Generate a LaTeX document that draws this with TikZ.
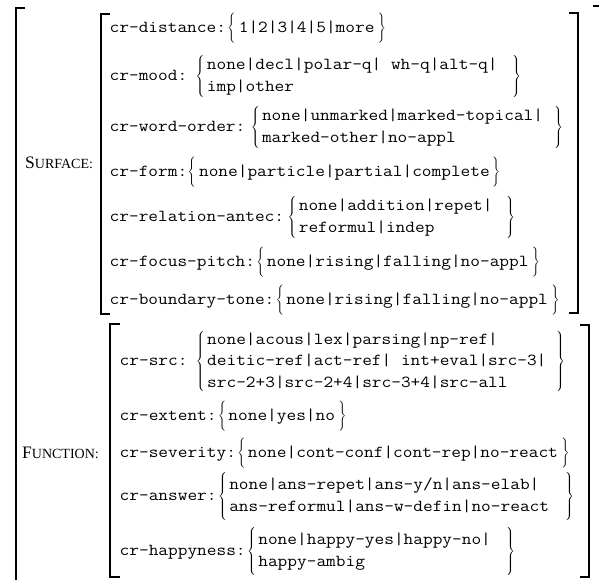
\documentclass[tikz,border=0pt]{standalone}
\usepackage{fontspec}
\usepackage{graphicx}
\setmainfont{Liberation Serif}
\usetikzlibrary{calc}
\newcommand\avmlb[1]{$\left\{\vcenter{\hbox{\rule{0pt}{#1pt}}}\right.\kern-\nulldelimiterspace$}
\newcommand\avmrb[1]{$\kern-\nulldelimiterspace\left.\vcenter{\hbox{\rule{0pt}{#1pt}}}\right\}$}
\newcommand\featlab[2]{{\fontsize{17.5}{19}\selectfont #1}{\fontsize{14}{16}\selectfont #2}}
\newcommand\tts[1]{\scalebox{1.12}[1]{#1}}
\newcommand\vlines[1]{\tts{\begin{tabular}[t]{@{}l@{}}#1\end{tabular}}}
\tikzset{
  brk/.style={line width=1.5pt},
  attr/.style={anchor=base west, inner sep=0pt, font=\ttfamily\fontsize{16.8}{21.5}\selectfont},
  vals/.style={anchor=base west, inner sep=0pt, font=\ttfamily\fontsize{16.8}{21.5}\selectfont},
  brace/.style={anchor=west, inner sep=0pt, font=\fontsize{11}{13}\selectfont},
  sect/.style={anchor=base west, inner sep=0pt},
}
\begin{document}
\begin{tikzpicture}[x=1pt,y=-1pt]
\useasboundingbox (0,0) rectangle (599,579);

% outer brackets
\draw[brk] (25,8) -- (16,8) -- (16,585);
\draw[brk] (593,6) -- (600.5,6) -- (600.5,585);
% SURFACE brackets
\draw[brk] (110,14) -- (101,14) -- (101,314) -- (110,314);
\draw[brk] (569,13) -- (578,13) -- (578,313) -- (569,313);
% FUNCTION brackets
\draw[brk] (120,324) -- (110,324) -- (110,577) -- (120,577);
\draw[brk] (580,325) -- (589,325) -- (589,577) -- (580,577);

\node[sect] (sf) at (25,168.5) {\featlab{S}{URFACE:}};
\node[sect] (fn) at (22,458.5) {\featlab{F}{UNCTION:}};

% ---- SURFACE rows
% 1 cr-distance
\node[attr] (a1) at (109.5,32.5) {\tts{cr-distance:}};
\node[brace] (l1) at ($(a1.base east)+(1,-4.5)$) {\avmlb{30}};
\node[vals] (v1) at ($(l1.east)+(3,4.5)$) {\tts{1|2|3|4|5|more}};
\node[brace] (r1) at ($(v1.base east)+(3,-4.5)$) {\avmrb{30}};
% 2 cr-mood
\node[attr] (a2) at (109.5,80.5) {\tts{cr-mood:}};
\node[brace] (l2) at ($(a2.base east)+(8,-4.5)$) {\avmlb{46}};
\node[vals] (v2) at ($(l2.east)+(2,4.5-10.75)$) {\vlines{none|decl|polar-q| wh-q|alt-q|\\imp|other}};
\node[brace] (r2) at (512,76) {\avmrb{46}};
% 3 cr-word-order
\node[attr] (a3) at (109.5,131.5) {\tts{cr-word-order:}};
\node[brace] (l3) at ($(a3.base east)+(5,-4.5)$) {\avmlb{46}};
\node[vals] (v3) at ($(l3.east)+(2,4.5-10.75)$) {\vlines{none|unmarked|marked-topical|\\marked-other|no-appl}};
\node[brace] (r3) at (554,127) {\avmrb{46}};
% 4 cr-form
\node[attr] (a4) at (109.5,176.5) {\tts{cr-form:}};
\node[brace] (l4) at ($(a4.base east)+(0,-4.5)$) {\avmlb{30}};
\node[vals] (v4) at ($(l4.east)+(3,4.5)$) {\tts{none|particle|partial|complete}};
\node[brace] (r4) at ($(v4.base east)+(2,-4.5)$) {\avmrb{30}};
% 5 cr-relation-antec
\node[attr] (a5) at (109.5,221.5) {\tts{cr-relation-antec:}};
\node[brace] (l5) at ($(a5.base east)+(3,-4.5)$) {\avmlb{46}};
\node[vals] (v5) at ($(l5.east)+(2,4.5-10.75)$) {\vlines{none|addition|repet|\\reformul|indep}};
\node[brace] (r5) at (506,217) {\avmrb{46}};
% 6 cr-focus-pitch
\node[attr] (a6) at (109.5,266.5) {\tts{cr-focus-pitch:}};
\node[brace] (l6) at ($(a6.base east)+(1,-4.5)$) {\avmlb{30}};
\node[vals] (v6) at ($(l6.east)+(2,4.5)$) {\tts{none|rising|falling|no-appl}};
\node[brace] (r6) at ($(v6.base east)+(3,-4.5)$) {\avmrb{30}};
% 7 cr-boundary-tone
\node[attr] (a7) at (109.5,304.5) {\tts{cr-boundary-tone:}};
\node[brace] (l7) at ($(a7.base east)+(1,-4.5)$) {\avmlb{30}};
\node[vals] (v7) at ($(l7.east)+(2,4.5)$) {\tts{none|rising|falling|no-appl}};
\node[brace] (r7) at ($(v7.base east)+(3,-4.5)$) {\avmrb{30}};

% ---- FUNCTION rows
% 8 cr-src
\node[attr] (a8) at (119.5,365.5) {\tts{cr-src:}};
\node[brace] (l8) at ($(a8.base east)+(8,-4.5)$) {\avmlb{64}};
\node[vals] (v8) at ($(l8.east)+(2,4.5-21.5)$) {\vlines{none|acous|lex|parsing|np-ref|\\deitic-ref|act-ref| int+eval|src-3|\\src-2+3|src-2+4|src-3+4|src-all}};
\node[brace] (r8) at (556,361) {\avmrb{64}};
% 9 cr-extent
\node[attr] (a9) at (119.5,420.5) {\tts{cr-extent:}};
\node[brace] (l9) at ($(a9.base east)+(1,-4.5)$) {\avmlb{30}};
\node[vals] (v9) at ($(l9.east)+(2,4.5)$) {\tts{none|yes|no}};
\node[brace] (r9) at ($(v9.base east)+(3,-4.5)$) {\avmrb{30}};
% 10 cr-severity
\node[attr] (a10) at (119.5,457.5) {\tts{cr-severity:}};
\node[brace] (l10) at ($(a10.base east)+(1,-4.5)$) {\avmlb{30}};
\node[vals] (v10) at ($(l10.east)+(2,4.5)$) {\tts{none|cont-conf|cont-rep|no-react}};
\node[brace] (r10) at ($(v10.base east)+(3,-4.5)$) {\avmrb{30}};
% 11 cr-answer
\node[attr] (a11) at (119.5,500.5) {\tts{cr-answer:}};
\node[brace] (l11) at ($(a11.base east)+(1,-4.5)$) {\avmlb{48}};
\node[vals] (v11) at ($(l11.east)+(2,4.5-10.75)$) {\vlines{none|ans-repet|ans-y/n|ans-elab|\\ans-reformul|ans-w-defin|no-react}};
\node[brace] (r11) at (565,496) {\avmrb{48}};
% 12 cr-happyness
\node[attr] (a12) at (119.5,555.5) {\tts{cr-happyness:}};
\node[brace] (l12) at ($(a12.base east)+(1,-4.5)$) {\avmlb{48}};
\node[vals] (v12) at ($(l12.east)+(2,4.5-10.75)$) {\vlines{none|happy-yes|happy-no|\\happy-ambig}};
\node[brace] (r12) at (506,551) {\avmrb{48}};
\end{tikzpicture}
\end{document}
